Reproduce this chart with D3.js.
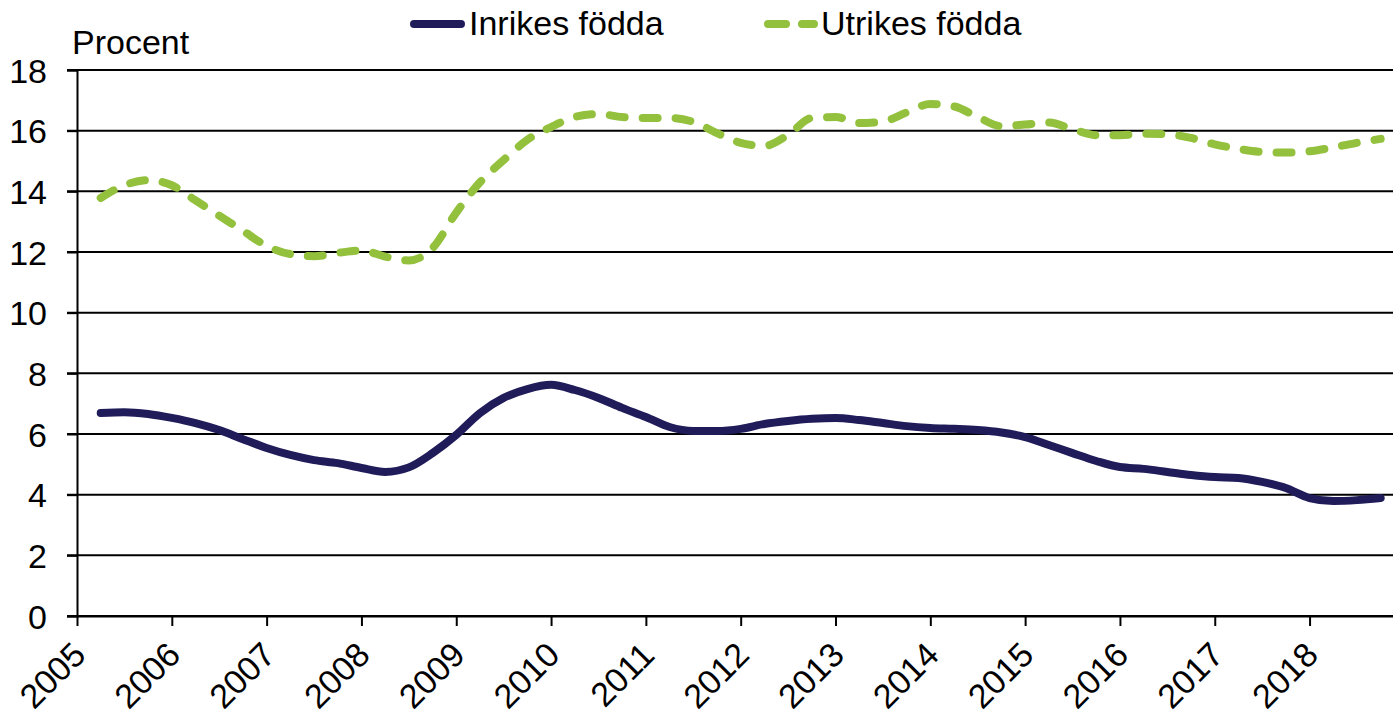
<!DOCTYPE html>
<html>
<head>
<meta charset="utf-8">
<script src="https://cdn.jsdelivr.net/npm/d3@7"></script>
<style>
  body { margin: 0; background: #fff; }
  svg { display: block; font-family: "Liberation Sans", Arial, sans-serif; }
</style>
</head>
<body>
<svg></svg>
<script>
"use strict";

// quarterly points, decimal years
const times = [
  2005.25, 2005.5, 2005.75, 2006.0, 2006.25, 2006.5, 2006.75, 2007.0,
  2007.25, 2007.5, 2007.75, 2008.0, 2008.25, 2008.5, 2008.75, 2009.0,
  2009.25, 2009.5, 2009.75, 2010.0, 2010.25, 2010.5, 2010.75, 2011.0,
  2011.25, 2011.5, 2011.75, 2012.0, 2012.25, 2012.5, 2012.75, 2013.0,
  2013.25, 2013.5, 2013.75, 2014.0, 2014.25, 2014.5, 2014.75, 2015.0,
  2015.25, 2015.5, 2015.75, 2016.0, 2016.25, 2016.5, 2016.75, 2017.0,
  2017.25, 2017.5, 2017.75, 2018.0, 2018.25, 2018.5, 2018.75
];

const inrikes = [
  6.69, 6.72, 6.66, 6.53, 6.36, 6.13, 5.83, 5.54,
  5.31, 5.14, 5.04, 4.88, 4.75, 4.9, 5.37, 5.97,
  6.69, 7.19, 7.48, 7.62, 7.45, 7.19, 6.86, 6.56,
  6.23, 6.1, 6.1, 6.17, 6.33, 6.43, 6.5, 6.53,
  6.46, 6.36, 6.26, 6.2, 6.17, 6.13, 6.05, 5.9,
  5.64, 5.37, 5.11, 4.91, 4.85, 4.75, 4.65, 4.58,
  4.55, 4.42, 4.22, 3.89, 3.79, 3.82, 3.89
];

const utrikes = [
  13.78, 14.2, 14.37, 14.2, 13.7, 13.2, 12.7, 12.2,
  11.93, 11.86, 11.97, 12.05, 11.85, 11.72, 12.13, 13.3,
  14.3, 15.03, 15.7, 16.12, 16.45, 16.55, 16.45, 16.42,
  16.42, 16.29, 15.92, 15.6, 15.5, 15.86, 16.42, 16.45,
  16.25, 16.3, 16.6, 16.88, 16.8, 16.45, 16.15, 16.2,
  16.27, 16.05, 15.85, 15.85, 15.9, 15.88, 15.76, 15.55,
  15.4, 15.3, 15.28, 15.32, 15.45, 15.6, 15.73
];

const yearTicks = d3.range(2005, 2019);
const valueTicks = d3.range(0, 19, 2);
const seriesNames = ["Inrikes födda", "Utrikes födda"];

const width = 1393;
const height = 715;
const plotLeft = 77;
const plotRight = 1393;
const plotTop = 70;
const plotBottom = 616;

const blue = "#201c5a";
const green = "#93c13d";

const svg = d3.select("svg").attr("width", width).attr("height", height);

const x = d3.scaleLinear().domain([2005, 2018.88]).range([plotLeft, plotRight]);
const y = d3.scaleLinear().domain([0, 18]).range([plotBottom, plotTop]);

// gridlines
svg.append("g")
  .selectAll("line")
  .data(valueTicks)
  .join("line")
  .attr("x1", plotLeft - 10)
  .attr("x2", plotRight)
  .attr("y1", (d) => y(d))
  .attr("y2", (d) => y(d))
  .attr("stroke", "#000")
  .attr("stroke-width", 2);

// y axis
const yAxis = d3.axisLeft(y).tickValues(valueTicks).tickSize(10);
const gy = svg.append("g").attr("transform", `translate(${plotLeft},0)`).call(yAxis);
gy.select(".domain").attr("stroke", "#000").attr("stroke-width", 2);
gy.selectAll(".tick line").attr("stroke-width", 2);
gy.selectAll(".tick text")
  .attr("font-size", 34)
  .attr("font-family", "Liberation Sans, Arial, sans-serif")
  .attr("fill", "#000")
  .attr("x", -30)
  .attr("dy", "0.36em");

// x axis
const xAxis = d3.axisBottom(x).tickValues(yearTicks).tickFormat(d3.format("d")).tickSize(10).tickSizeOuter(0);
const gx = svg.append("g").attr("transform", `translate(0,${plotBottom})`).call(xAxis);
gx.select(".domain").attr("stroke", "#000").attr("stroke-width", 2);
gx.selectAll(".tick line").attr("stroke-width", 2);
gx.selectAll(".tick text")
  .attr("font-size", 34)
  .attr("font-family", "Liberation Sans, Arial, sans-serif")
  .attr("fill", "#000")
  .attr("text-anchor", "end")
  .attr("y", 0)
  .attr("dy", 0)
  .attr("transform", "translate(10,41) rotate(-45)");

svg.append("text")
  .attr("x", 72)
  .attr("y", 54)
  .attr("font-size", 34)
  .text("Procent");

// lines
const line = (values) =>
  d3.line()
    .x((d, i) => x(times[i]))
    .y((d) => y(d))
    .curve(d3.curveMonotoneX)(values);

svg.append("path")
  .attr("d", line(inrikes))
  .attr("fill", "none")
  .attr("stroke", blue)
  .attr("stroke-width", 8)
  .attr("stroke-linecap", "round")
  .attr("stroke-linejoin", "round");

svg.append("path")
  .attr("d", line(utrikes))
  .attr("fill", "none")
  .attr("stroke", green)
  .attr("stroke-width", 8)
  .attr("stroke-linecap", "round")
  .attr("stroke-dasharray", "15 18");

// legend
const legend = svg.append("g");
legend.append("line")
  .attr("x1", 414).attr("x2", 461).attr("y1", 24).attr("y2", 24)
  .attr("stroke", blue).attr("stroke-width", 8).attr("stroke-linecap", "round");
legend.append("text")
  .attr("x", 469).attr("y", 35).attr("font-size", 34)
  .text(seriesNames[0]);

legend.append("line")
  .attr("x1", 768).attr("x2", 814).attr("y1", 24).attr("y2", 24)
  .attr("stroke", green).attr("stroke-width", 8).attr("stroke-linecap", "round")
  .attr("stroke-dasharray", "18 16");
legend.append("text")
  .attr("x", 821).attr("y", 35).attr("font-size", 34)
  .text(seriesNames[1]);
</script>
</body>
</html>
